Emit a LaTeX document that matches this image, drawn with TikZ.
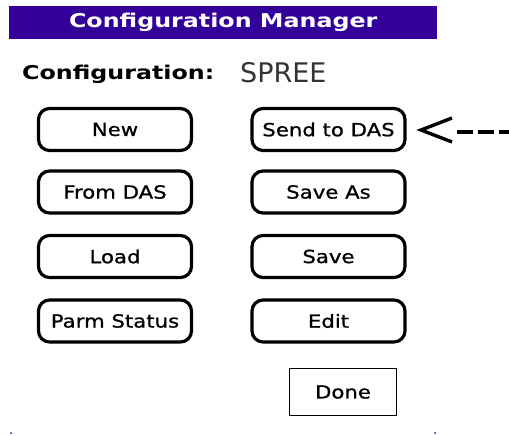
\documentclass[tikz,border=0pt]{standalone}
\usepackage{fontspec}
\setmainfont{DejaVu Sans}[FakeStretch=1.18,FakeBold=1]
\newfontfamily\palmbold{DejaVu Sans}[FakeStretch=1.25]
\newfontfamily\plainsans{DejaVu Sans}
\usetikzlibrary{calc,positioning}
\definecolor{palmbar}{HTML}{330099}
\definecolor{ink}{HTML}{000000}
\definecolor{softink}{HTML}{333333}

\begin{document}
\begin{tikzpicture}[x=1pt,y=-1pt,
  btn/.style={draw=ink,line width=3.2pt,rounded corners=11pt,fill=white,
              minimum width=153pt,minimum height=42pt,inner sep=0pt,
              font=\fontsize{18}{20}\selectfont},
  donebox/.style={draw=ink,line width=1.8pt,minimum width=107pt,
              minimum height=47pt,inner sep=0pt,
              font=\fontsize{18}{20}\selectfont},
  ptrline/.style={ink,line width=4pt},
  dotmark/.style={circle,fill=palmbar,minimum size=2pt,inner sep=0pt}
]
\useasboundingbox (0,0) rectangle (509,436);
% title bar
\node[fill=palmbar,minimum width=428pt,minimum height=33pt,inner sep=0pt,
  anchor=north west,text=white,font=\palmbold\bfseries\fontsize{19}{21}\selectfont]
  (bar) at (9,6) {Configuration Manager};
\node[anchor=base west,inner sep=0pt,font=\palmbold\bfseries\fontsize{19}{21}\selectfont]
  (cfglab) at (22,80) {Configuration:};
\node[anchor=base west,inner sep=0pt,text=softink,font=\plainsans\fontsize{27}{29}\selectfont]
  (cfgname) at (240,82) {SPREE};
% button grid
\node[btn] (new)    at (115,129.5) {New};
\node[btn] (fromdas) at (115,192) {From DAS};
\node[btn] (load)   at (115,256.5) {Load};
\node[btn] (parm)   at (115,321) {Parm Status};
\node[btn] (send)   at (328.5,129.5) {Send to DAS};
\node[btn] (saveas) at (328.5,192) {Save As};
\node[btn] (save)   at (328.5,256.5) {Save};
\node[btn] (edit)   at (328.5,321) {Edit};
\node[donebox] (done) at (343,392) {Done};
% pointer to Send to DAS
\coordinate (tip) at (421,130);
\coordinate (dashstart) at (457,131.5);
\coordinate (tail) at (512,131.5);
\draw[ink,line width=3.4pt,line cap=butt,line join=miter]
  ($(tip)+(31,-12)$) -- (tip) -- ($(tip)+(31,12)$);
\draw[ptrline,dash pattern=on 16pt off 5pt] (dashstart) -- (tail);
\node[dotmark] (dl) at (11,433) {};
\node[dotmark] (dr) at (435,433) {};
\end{tikzpicture}
\end{document}
